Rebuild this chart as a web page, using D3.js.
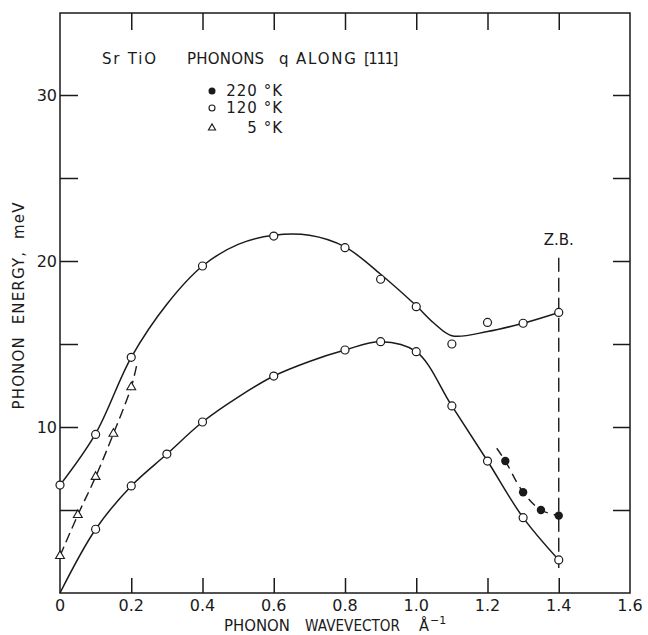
<!DOCTYPE html>
<html><head><meta charset="utf-8">
<script src="https://cdn.jsdelivr.net/npm/d3@7"></script>
<style>
body{margin:0;background:#fff;}
svg text{font-family:"DejaVu Sans",sans-serif;fill:#1a1a1a;}
</style></head>
<body><svg id="c" width="648" height="635"></svg>
<script>
// ---- data ----
const xTicks = [0,0.2,0.4,0.6,0.8,1.0,1.2,1.4,1.6];
const xTickLabels = ["0","0.2","0.4","0.6","0.8","1.0","1.2","1.4","1.6"];
const yTicks = [5,10,15,20,25,30];
const yTickLabels = {10:"10",20:"20",30:"30"};

// 120 K measured points, upper branch
const upper120 = [[0,6.5],[0.1,9.55],[0.2,14.2],[0.4,19.7],[0.6,21.5],[0.8,20.8],[0.9,18.9],[1.0,17.25],[1.1,15.0],[1.2,16.3],[1.3,16.25],[1.4,16.9]];
// 120 K measured points, lower branch
const lower120 = [[0.1,3.84],[0.2,6.45],[0.3,8.37],[0.4,10.3],[0.6,13.07],[0.8,14.64],[0.9,15.14],[1.0,14.54],[1.1,11.27],[1.2,7.95],[1.3,4.54],[1.4,1.99]];
// 220 K measured points
const pts220 = [[1.25,7.95],[1.3,6.07],[1.35,5.0],[1.4,4.66]];
// 5 K measured points
const pts5 = [[0,2.23],[0.05,4.7],[0.1,7.0],[0.15,9.6],[0.2,12.4]];

// drawn (hand-fitted) curves, read along the lines of the picture
const upperCurve = [[0,6.5],[0.1,9.6],[0.2,14.2],[0.3,17.4],[0.4,19.7],[0.5,21.0],[0.6,21.55],[0.7,21.55],[0.8,20.85],[0.9,19.2],[1.0,17.3],[1.05,16.25],[1.1,15.5],[1.2,15.75],[1.3,16.25],[1.4,16.9]];
const lowerCurve = [[0,0],[0.1,3.84],[0.2,6.45],[0.3,8.37],[0.4,10.3],[0.5,11.8],[0.6,13.07],[0.7,13.95],[0.8,14.64],[0.9,15.14],[1.0,14.54],[1.1,11.27],[1.2,7.95],[1.3,4.54],[1.4,1.99]];
const curve220 = [[1.226,8.72],[1.25,7.95],[1.3,6.07],[1.35,5.0],[1.4,4.66]];
const curve5 = [[0,2.23],[0.05,4.7],[0.1,7.0],[0.15,9.6],[0.2,12.4],[0.215,13.7]];
const zbLine = [[1.4,20.2],[1.4,1.5]];

const legendItems = [{sym:"filled",label:"220 °K"},{sym:"open",label:"120 °K"},{sym:"tri",label:"5 °K"}];

// ---- drawing ----
const svg = d3.select("#c");
const L=60,R=630,T=13,B=593;
const x = d3.scaleLinear().domain([0,1.6]).range([L,R]);
const y = d3.scaleLinear().domain([0,35]).range([B,12]);
const ink="#1a1a1a";

// frame
svg.append("rect").attr("x",L).attr("y",T).attr("width",R-L).attr("height",B-T)
  .attr("fill","none").attr("stroke",ink).attr("stroke-width",1.5);

// ticks
const inner = xTicks.filter(v=>v>0&&v<1.6);
const gx = svg.append("g").attr("transform",`translate(0,${B})`)
  .call(d3.axisBottom(x).tickValues(inner).tickSizeInner(-15).tickSizeOuter(0).tickFormat(""));
const gxt = svg.append("g").attr("transform",`translate(0,${T})`)
  .call(d3.axisTop(x).tickValues(inner).tickSizeInner(-17).tickSizeOuter(0).tickFormat(""));
const gy = svg.append("g").attr("transform",`translate(${L},0)`)
  .call(d3.axisLeft(y).tickValues(yTicks).tickSizeInner(-18).tickSizeOuter(0).tickFormat(""));
const gyr = svg.append("g").attr("transform",`translate(${R},0)`)
  .call(d3.axisRight(y).tickValues(yTicks).tickSizeInner(-17).tickSizeOuter(0).tickFormat(""));
[gx,gxt,gy,gyr].forEach(g=>{g.select(".domain").remove();g.selectAll("line").attr("stroke",ink).attr("stroke-width",1.5);});

// tick labels
svg.append("g").selectAll("text").data(xTicks).join("text")
  .attr("x",d=>x(d)).attr("y",611).attr("text-anchor","middle")
  .attr("font-size",16).text((d,i)=>xTickLabels[i]);
svg.append("g").selectAll("text").data(yTicks.filter(d=>yTickLabels[d])).join("text")
  .attr("x",57).attr("y",d=>y(d)+6).attr("text-anchor","end")
  .attr("font-size",16).text(d=>yTickLabels[d]);

// axis titles
const xTitle=[["PHONON",224,66],["WAVEVECTOR",305,95],["Å",419,10]];
svg.append("g").selectAll("text").data(xTitle).join("text")
  .attr("x",d=>d[1]).attr("y",631).attr("font-size",15)
  .attr("textLength",d=>d[2]).attr("lengthAdjust","spacingAndGlyphs").text(d=>d[0]);
svg.append("text").attr("x",430).attr("y",624).attr("font-size",11).text("−1");
svg.append("text").attr("transform","translate(24,306) rotate(-90)").attr("text-anchor","middle")
  .attr("font-size",15).attr("textLength",207).attr("lengthAdjust","spacing")
  .attr("style","white-space:pre").text("PHONON  ENERGY,  meV");

// title
const title=[["Sr TiO",102,1.8],["PHONONS",187,0.2],["q",279,0],["ALONG",296,1.8],["[111]",364,-1.5]];
svg.append("g").selectAll("text").data(title).join("text")
  .attr("x",d=>d[1]).attr("y",64).attr("font-size",15)
  .attr("letter-spacing",d=>d[2]).text(d=>d[0]);

// legend
const ly=[91,108,128];
legendItems.forEach((it,i)=>{
  if(it.sym==="filled") svg.append("circle").attr("cx",212).attr("cy",ly[i]).attr("r",3.5).attr("fill",ink);
  else if(it.sym==="open") svg.append("circle").attr("cx",212).attr("cy",ly[i]).attr("r",3).attr("fill","#fff").attr("stroke",ink).attr("stroke-width",1.1);
  else svg.append("path").attr("d",d3.symbol(d3.symbolTriangle,22)()).attr("transform",`translate(212,${ly[i]})`).attr("fill","#fff").attr("stroke",ink).attr("stroke-width",1.1);
  svg.append("text").attr("x",283).attr("y",ly[i]+5).attr("text-anchor","end").attr("font-size",15)
    .attr("letter-spacing",1).text(it.label);
});

// curves
const line = d3.line().x(d=>x(d[0])).y(d=>y(d[1])).curve(d3.curveCatmullRom.alpha(0.5));
const straight = d3.line().x(d=>x(d[0])).y(d=>y(d[1]));
svg.append("path").attr("d",line(upperCurve)).attr("fill","none").attr("stroke",ink).attr("stroke-width",1.5);
svg.append("path").attr("d",line(lowerCurve)).attr("fill","none").attr("stroke",ink).attr("stroke-width",1.5);
svg.append("path").attr("d",line(curve220)).attr("fill","none").attr("stroke",ink).attr("stroke-width",1.4).attr("stroke-dasharray","9,6");
svg.append("path").attr("d",line(curve5)).attr("fill","none").attr("stroke",ink).attr("stroke-width",1.4).attr("stroke-dasharray","10,5");
svg.append("path").attr("d",straight(zbLine)).attr("fill","none").attr("stroke",ink).attr("stroke-width",1.4).attr("stroke-dasharray","14,6");
svg.append("text").attr("x",x(1.4)).attr("y",245).attr("text-anchor","middle").attr("font-size",15).text("Z.B.");

// markers
svg.append("g").selectAll("circle").data(upper120.concat(lower120)).join("circle")
  .attr("cx",d=>x(d[0])).attr("cy",d=>y(d[1])).attr("r",4)
  .attr("fill","#fff").attr("stroke",ink).attr("stroke-width",1.2);
svg.append("g").selectAll("circle").data(pts220).join("circle")
  .attr("cx",d=>x(d[0])).attr("cy",d=>y(d[1])).attr("r",4.2).attr("fill",ink);
svg.append("g").selectAll("path").data(pts5).join("path")
  .attr("d",d3.symbol(d3.symbolTriangle,34)())
  .attr("transform",d=>`translate(${x(d[0])},${y(d[1])})`)
  .attr("fill","#fff").attr("stroke",ink).attr("stroke-width",1.1);
</script></body></html>
